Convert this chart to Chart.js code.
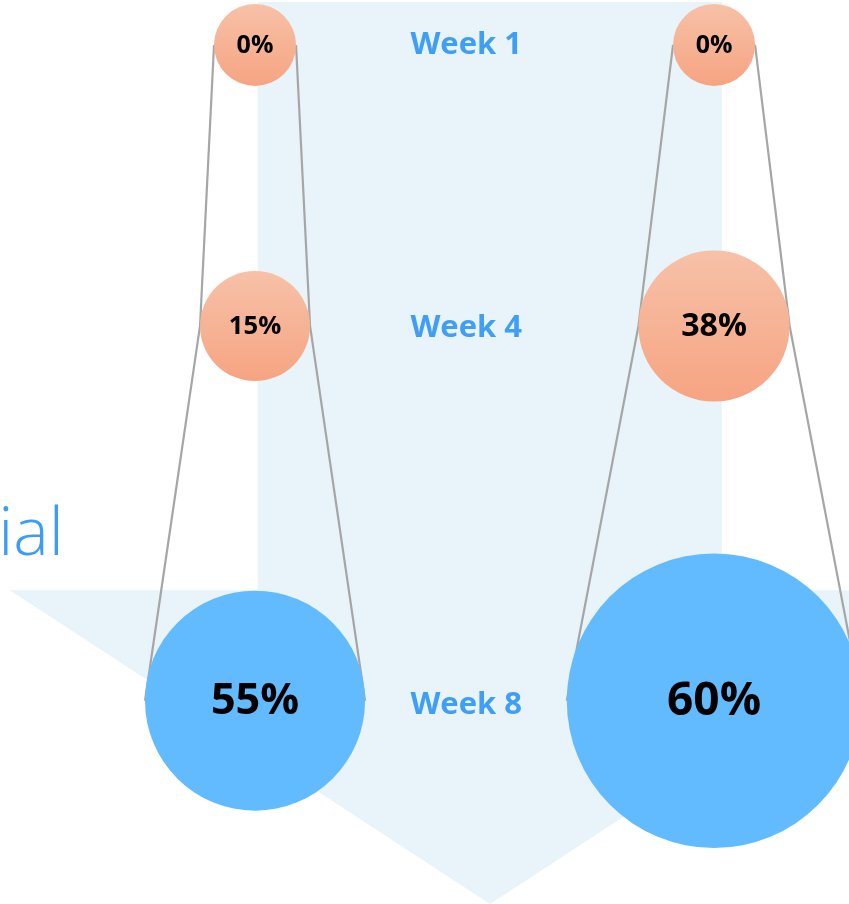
<!DOCTYPE html>
<html>
<head>
<meta charset="utf-8">
<script src="https://cdn.jsdelivr.net/npm/chart.js@4.4.1/dist/chart.umd.min.js"></script>
<style>
  html, body { margin: 0; padding: 0; background: #ffffff; }
  #wrap { width: 849px; height: 904px; position: relative; }
</style>
</head>
<body>
<div id="wrap"><canvas id="bubbles"></canvas></div>
<script>
(function () {
    "use strict";

    // data
    var weeks = [1, 4, 8];
    var weekLabels = ["Week 1", "Week 4", "Week 8"];
    var groupA = [0, 15, 55];
    var groupB = [0, 38, 60];
    // bubble size column (area units, like a spreadsheet bubble chart)
    var sizeA = [1, 1.8, 7.2];
    var sizeB = [1, 3.4, 12.9];

    var title = "Trial";

    function radius(size) {
        return 41 * Math.sqrt(size);
    }

    function buildPoints(col, values, sizes) {
        return weeks.map(function (w, i) {
            return { x: col, y: w, r: radius(sizes[i]), v: values[i] };
        });
    }

    function bubbleColor(context) {
        var chart = context.chart;
        var raw = context.raw;
        if (!raw) return "#f6b092";
        if (raw.y === weeks[weeks.length - 1]) return "#63bbff";
        var yScale = chart.scales.y;
        if (!yScale) return "#f6b092";
        var cy = yScale.getPixelForValue(raw.y);
        if (!isFinite(cy)) return "#f6b092";
        var g = chart.ctx.createLinearGradient(0, cy - raw.r, 0, cy + raw.r);
        g.addColorStop(0, "#f7c1a8");
        g.addColorStop(1, "#f6a482");
        return g;
    }

    var backdrop = {
        id: "backdrop",
        beforeDatasetsDraw: function (chart) {
            var ctx = chart.ctx, x = chart.scales.x, y = chart.scales.y;
            var area = chart.chartArea;
            ctx.save();
            ctx.fillStyle = "#e8f4f9";
            ctx.beginPath();
            ctx.moveTo(x.getPixelForValue(1.006), area.top + 2);
            ctx.lineTo(x.getPixelForValue(2.017), area.top + 2);
            ctx.lineTo(x.getPixelForValue(2.017), y.getPixelForValue(6.82));
            ctx.lineTo(x.getPixelForValue(2.557), y.getPixelForValue(6.82));
            ctx.lineTo(x.getPixelForValue(1.512), area.bottom);
            ctx.lineTo(x.getPixelForValue(0.466), y.getPixelForValue(6.82));
            ctx.lineTo(x.getPixelForValue(1.006), y.getPixelForValue(6.82));
            ctx.closePath();
            ctx.fill();

            // side rails joining the bubbles of each column
            ctx.strokeStyle = "#a6a6a6";
            ctx.lineWidth = 2.2;
            chart.data.datasets.forEach(function (ds, di) {
                var els = chart.getDatasetMeta(di).data;
                [-1, 1].forEach(function (side) {
                    ctx.beginPath();
                    els.forEach(function (el, i) {
                        var px = el.x + side * ds.data[i].r;
                        if (i === 0) ctx.moveTo(px, el.y); else ctx.lineTo(px, el.y);
                    });
                    ctx.stroke();
                });
            });

            // title, cut by the left edge
            ctx.fillStyle = "#3d9cf5";
            ctx.font = '300 67px "Open Sans"';
            ctx.textAlign = "right";
            ctx.textBaseline = "alphabetic";
            ctx.fillText(title, area.left + 64, y.getPixelForValue(6.44));

            // week labels
            ctx.font = 'bold 31px "Open Sans"';
            ctx.textAlign = "center";
            ctx.textBaseline = "middle";
            ctx.fillStyle = "#3f9ef5";
            weeks.forEach(function (w, i) {
                ctx.fillText(weekLabels[i], x.getPixelForValue(1.46), y.getPixelForValue(w) + 2 * i);
            });
            ctx.restore();
        },
        afterDatasetsDraw: function (chart) {
            var ctx = chart.ctx;
            ctx.save();
            ctx.fillStyle = "#000000";
            ctx.textAlign = "center";
            ctx.textBaseline = "middle";
            chart.data.datasets.forEach(function (ds, di) {
                chart.getDatasetMeta(di).data.forEach(function (el, i) {
                    var r = ds.data[i].r;
                    var fs = Math.min(46, Math.max(25, 8 + r * 0.32));
                    ctx.font = 'bold ' + fs + 'px "Open Sans"';
                    ctx.fillText(ds.data[i].v + "%", el.x, el.y + 1);
                });
            });
            ctx.restore();
        }
    };

    var ctx = document.getElementById("bubbles").getContext("2d");
    var chart = new Chart(ctx, {
        type: "bubble",
        data: {
            datasets: [
                {
                    label: "A",
                    data: buildPoints(1, groupA, sizeA),
                    backgroundColor: bubbleColor,
                    borderWidth: 0,
                    clip: false
                },
                {
                    label: "B",
                    data: buildPoints(2, groupB, sizeB),
                    backgroundColor: bubbleColor,
                    borderWidth: 0,
                    clip: false
                }
            ]
        },
        options: {
            responsive: true,
            maintainAspectRatio: false,
            animation: false,
            events: [],
            layout: { padding: 0, autoPadding: false },
            plugins: {
                legend: { display: false },
                tooltip: { enabled: false }
            },
            scales: {
                x: { type: "linear", min: 0.4444, max: 2.294, display: false },
                y: { type: "linear", min: 0.52, max: 10.17, reverse: true, display: false }
            }
        },
        plugins: [backdrop]
    });
})();
</script>
</body>
</html>
